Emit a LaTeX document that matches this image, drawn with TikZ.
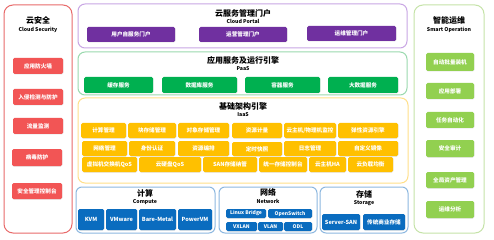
\documentclass[tikz,border=0pt]{standalone}
\usepackage{fontspec}
\setmainfont{Noto Sans CJK SC}
\usetikzlibrary{shadows}
\definecolor{redB}{HTML}{E86A6A}
\definecolor{redF}{HTML}{F25555}
\definecolor{purB}{HTML}{C9A6E4}
\definecolor{purF}{HTML}{7030A0}
\definecolor{paaB}{HTML}{9AD9AE}
\definecolor{paaF}{HTML}{00B050}
\definecolor{iaaB}{HTML}{FFE08A}
\definecolor{iaaF}{HTML}{FFC000}
\definecolor{bluB}{HTML}{8DB8E0}
\definecolor{bluF}{HTML}{0A6CBF}
\definecolor{opsB}{HTML}{C5E3A8}
\definecolor{opsF}{HTML}{92D050}
\tikzset{
  btn/.style={rectangle, rounded corners=1.5pt, text=white, inner sep=0pt,
    font=\fontsize{5.6}{6}\selectfont\bfseries,
    drop shadow={opacity=0.25, shadow xshift=0.4pt, shadow yshift=-0.5pt}},
  sbtn/.style={btn, font=\fontsize{5}{5.5}\selectfont\bfseries},
  panel/.style={rectangle, rounded corners=7pt, line width=1pt, fill=white, inner sep=0pt},
  ttl/.style={inner sep=0pt, font=\fontsize{8}{9}\selectfont\bfseries},
  sub/.style={inner sep=0pt, font=\fontsize{5.2}{6}\selectfont\bfseries},
}
\newcommand\B[7]{\node[#2, minimum width={#5-#3}, minimum height={#6-#4}] (#1) at ({(#3+#5)/2},{(#4+#6)/2}) {#7};}
\begin{document}
\begin{tikzpicture}[x=1pt,y=-1pt]
\useasboundingbox[fill=white] (0,0) rectangle (494,240);
% left panel
\B{sec}{panel, draw=redB, rounded corners=9pt}{4}{5}{72}{233}{}
\node[ttl] (secT) at (38,20) {云安全};
\node[sub] (secS) at (38,29.5) {Cloud Security};
\B{s1}{btn, fill=redF}{13}{58}{63}{74}{应用防火墙}
\B{s2}{btn, fill=redF}{13}{89}{63}{105}{入侵检测与防护}
\B{s3}{btn, fill=redF}{13}{118}{63}{134}{流量监测}
\B{s4}{btn, fill=redF}{12}{149}{62}{166}{病毒防护}
\B{s5}{btn, fill=redF}{12}{183}{62}{199}{安全管理控制台}
% right panel
\B{ops}{panel, draw=opsB, rounded corners=9pt}{414}{5}{484}{233}{}
\node[ttl] (opsT) at (449,20) {智能运维};
\node[sub] (opsS) at (449,29.5) {Smart Operation};
\B{o1}{btn, fill=opsF}{426}{53}{474}{71}{自动批量装机}
\B{o2}{btn, fill=opsF}{426}{83}{474}{99}{应用部署}
\B{o3}{btn, fill=opsF}{426}{112}{474}{128}{任务自动化}
\B{o4}{btn, fill=opsF}{426}{140}{474}{157}{安全审计}
\B{o5}{btn, fill=opsF}{426}{172}{474}{188}{全局资产管理}
\B{o6}{btn, fill=opsF}{426}{201}{474}{218}{运维分析}
% portal
\B{por}{panel, draw=purB}{78}{4}{407}{48}{}
\node[ttl] (porT) at (243,13.5) {云服务管理门户};
\node[sub] (porS) at (243,21.5) {Cloud Portal};
\B{p1}{btn, fill=purF}{87}{27}{175}{42}{用户自服务门户}
\B{p2}{btn, fill=purF}{199}{27}{287}{42}{运营管理门户}
\B{p3}{btn, fill=purF}{307}{26}{396}{41}{运维管理门户}
% paas
\B{paa}{panel, draw=paaB}{78}{52}{407}{95}{}
\node[ttl] (paaT) at (243,60) {应用服务及运行引擎};
\node[sub] (paaS) at (243,68.5) {PaaS};
\B{a1}{btn, fill=paaF}{84}{77}{153}{93}{缓存服务}
\B{a2}{btn, fill=paaF}{162}{77}{237}{93}{数据库服务}
\B{a3}{btn, fill=paaF}{245}{77}{320}{93}{容器服务}
\B{a4}{btn, fill=paaF}{328}{77}{398}{93}{大数据服务}
% iaas
\B{iaa}{panel, draw=iaaB}{78}{98}{408}{183}{}
\node[ttl] (iaaT) at (243,106) {基础架构引擎};
\node[sub] (iaaS) at (243,114.5) {IaaS};
\B{i1}{btn, fill=iaaF}{81}{123}{126}{138}{计算管理}
\B{i2}{btn, fill=iaaF}{128}{123}{176}{138}{块存储管理}
\B{i3}{btn, fill=iaaF}{178}{123}{229}{138}{对象存储管理}
\B{i4}{btn, fill=iaaF}{232}{123}{282}{138}{资源计量}
\B{i5}{btn, fill=iaaF}{284}{123}{336}{138}{云主机/物理机监控}
\B{i6}{btn, fill=iaaF}{338}{123}{398}{138}{弹性资源引擎}
\B{j1}{btn, fill=iaaF}{82}{141}{127}{156}{网络管理}
\B{j2}{btn, fill=iaaF}{129}{141}{175}{156}{身份认证}
\B{j3}{btn, fill=iaaF}{178}{141}{229}{156}{资源编排}
\B{j4}{btn, fill=iaaF}{232}{142}{282}{156}{定时快照}
\B{j5}{btn, fill=iaaF}{284}{141}{336}{156}{日志管理}
\B{j6}{btn, fill=iaaF}{338}{141}{398}{156}{自定义镜像}
\B{k1}{btn, fill=iaaF}{82}{157}{137}{172}{虚拟机交换机QoS}
\B{k2}{btn, fill=iaaF}{139}{157}{201}{172}{云硬盘QoS}
\B{k3}{btn, fill=iaaF}{203}{157}{257}{172}{SAN存储纳管}
\B{k4}{btn, fill=iaaF}{259}{157}{307}{172}{统一存储控制台}
\B{k5}{btn, fill=iaaF}{309}{157}{346}{172}{云主机HA}
\B{k6}{btn, fill=iaaF}{348}{157}{393}{172}{云负载均衡}
% compute
\B{cmp}{panel, draw=bluB, rounded corners=6pt}{76}{187}{215}{233}{}
\node[ttl] (cmpT) at (145,193) {计算};
\node[sub] (cmpS) at (145,202) {Compute};
\B{c1}{btn, fill=bluF}{78}{209}{104}{230}{KVM}
\B{c2}{btn, fill=bluF}{106}{209}{137}{230}{VMware}
\B{c3}{btn, fill=bluF}{139}{209}{176}{230}{Bare-Metal}
\B{c4}{btn, fill=bluF}{178}{209}{212}{230}{PowerVM}
% network
\B{net}{panel, draw=bluB, rounded corners=6pt}{219}{187}{317}{233}{}
\node[ttl] (netT) at (268,192) {网络};
\node[sub] (netS) at (268,201) {Network};
\B{n1}{sbtn, fill=bluF}{226}{209}{266}{218}{Linux Bridge}
\B{n2}{sbtn, fill=bluF}{268}{209}{312}{218}{OpenSwitch}
\B{n3}{sbtn, fill=bluF}{226}{222}{257}{231}{VXLAN}
\B{n4}{sbtn, fill=bluF}{258}{222}{283}{231}{VLAN}
\B{n5}{sbtn, fill=bluF}{284}{222}{312}{231}{ODL}
% storage
\B{sto}{panel, draw=bluB, rounded corners=6pt}{320}{187}{408}{233}{}
\node[ttl] (stoT) at (364,194) {存储};
\node[sub] (stoS) at (364,203) {Storage};
\B{t1}{btn, fill=bluF}{322}{214}{360}{230}{Server-SAN}
\B{t2}{btn, fill=bluF}{363}{214}{405}{230}{传统商业存储}
\end{tikzpicture}
\end{document}
